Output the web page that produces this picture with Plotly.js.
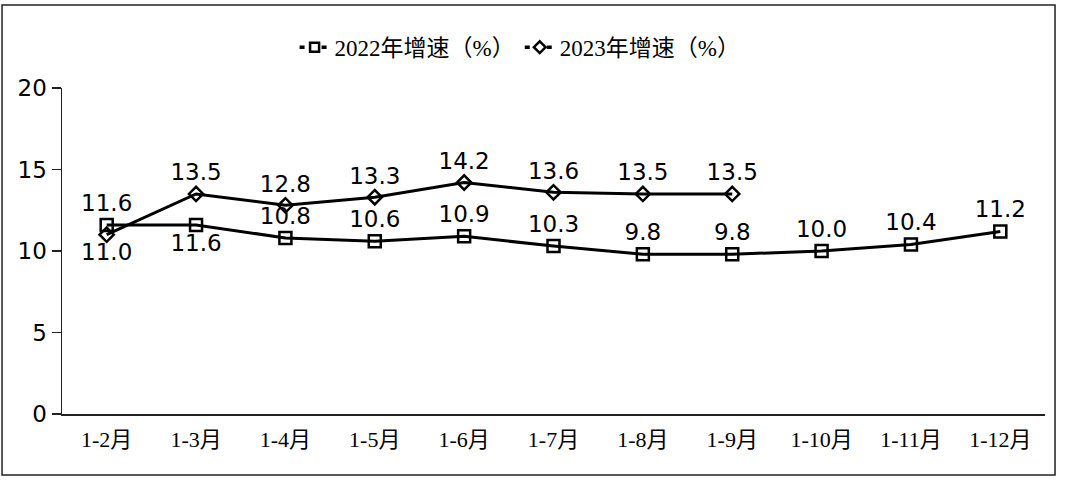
<!DOCTYPE html>
<html>
<head>
<meta charset="utf-8">
<script src="https://cdn.plot.ly/plotly-3.0.1.min.js"></script>
<style>html,body{margin:0;padding:0;background:#fff;}#chart{width:1068px;height:482px;}</style>
</head>
<body>
<div id="chart"></div>
<script>
var categories = ["1-2月","1-3月","1-4月","1-5月","1-6月","1-7月","1-8月","1-9月","1-10月","1-11月","1-12月"];
var values2022 = [11.6, 11.6, 10.8, 10.6, 10.9, 10.3, 9.8, 9.8, 10.0, 10.4, 11.2];
var values2023 = [11.0, 13.5, 12.8, 13.3, 14.2, 13.6, 13.5, 13.5];
var seriesNames = ["2022年增速（%）", "2023年增速（%）"];
var labels2022 = values2022.map(function(v){return v.toFixed(1);});
var labels2023 = values2023.map(function(v){return v.toFixed(1);});
var pos2022 = labels2022.map(function(_,i){return i===1 ? "bottom center" : "top center";});
var pos2023 = labels2023.map(function(_,i){return i===0 ? "bottom center" : "top center";});

var labelFont = {family: "DejaVu Sans, Verdana, sans-serif", size: 23, color: "#000"};
var serifFont = "Liberation Serif, 'Noto Sans CJK SC', serif";

var traces = [
  {
    x: categories, y: values2022, name: seriesNames[0], showlegend: false,
    type: "scatter", mode: "lines+markers+text",
    text: labels2022, textposition: pos2022, textfont: labelFont,
    line: {color: "#000", width: 3},
    marker: {symbol: "square-open", size: 12, color: "#000", line: {width: 2.5, color: "#000"}},
    cliponaxis: false
  },
  {
    x: categories.slice(0, values2023.length), y: values2023, name: seriesNames[1], showlegend: false,
    type: "scatter", mode: "lines+markers+text",
    text: labels2023, textposition: pos2023, textfont: labelFont,
    line: {color: "#000", width: 3},
    marker: {symbol: "diamond-open", size: 11, color: "#000", line: {width: 2.5, color: "#000"}},
    cliponaxis: false
  },
  {
    x: [null], y: [null], name: seriesNames[0], type: "scatter", mode: "lines+markers",
    line: {color: "#000", width: 3.5, dash: "5px,6px"},
    marker: {symbol: "square", size: 9, color: "#fff", line: {width: 2.5, color: "#000"}}
  },
  {
    x: [null], y: [null], name: seriesNames[1], type: "scatter", mode: "lines+markers",
    line: {color: "#000", width: 3.5, dash: "5px,6px"},
    marker: {symbol: "diamond", size: 9, color: "#fff", line: {width: 2.5, color: "#000"}}
  }
];

var layout = {
  width: 1068, height: 482,
  margin: {l: 62, r: 23, t: 88, b: 68},
  paper_bgcolor: "#fff", plot_bgcolor: "#fff",
  showlegend: true,
  legend: {
    orientation: "h", x: 0.466, xanchor: "center", y: 1.125, yanchor: "middle",
    font: {family: serifFont, size: 23, color: "#000"},
    itemwidth: 30
  },
  xaxis: {
    type: "category", range: [-0.5, 10.5],
    showline: true, linecolor: "#222", linewidth: 1.5,
    ticks: "outside", ticklen: 5, tickcolor: "rgba(0,0,0,0)", showgrid: false, zeroline: false,
    tickfont: {family: serifFont, size: 22, color: "#000"},
    fixedrange: true
  },
  yaxis: {
    range: [0, 20], dtick: 5, tick0: 0,
    showline: true, linecolor: "#222", linewidth: 1.5,
    ticks: "outside", ticklen: 9, tickcolor: "#222", tickwidth: 1.5,
    showgrid: false, zeroline: false,
    tickfont: {family: "DejaVu Sans, Verdana, sans-serif", size: 23, color: "#000"},
    fixedrange: true
  },
  shapes: [{
    type: "rect", xref: "paper", yref: "paper",
    x0: -0.061, x1: 1.0102, y0: -0.187, y1: 1.2546,
    line: {color: "#222", width: 1.5}, fillcolor: "rgba(0,0,0,0)", layer: "below"
  }]
};

Plotly.newPlot("chart", traces, layout, {displayModeBar: false, staticPlot: true});
</script>
</body>
</html>
